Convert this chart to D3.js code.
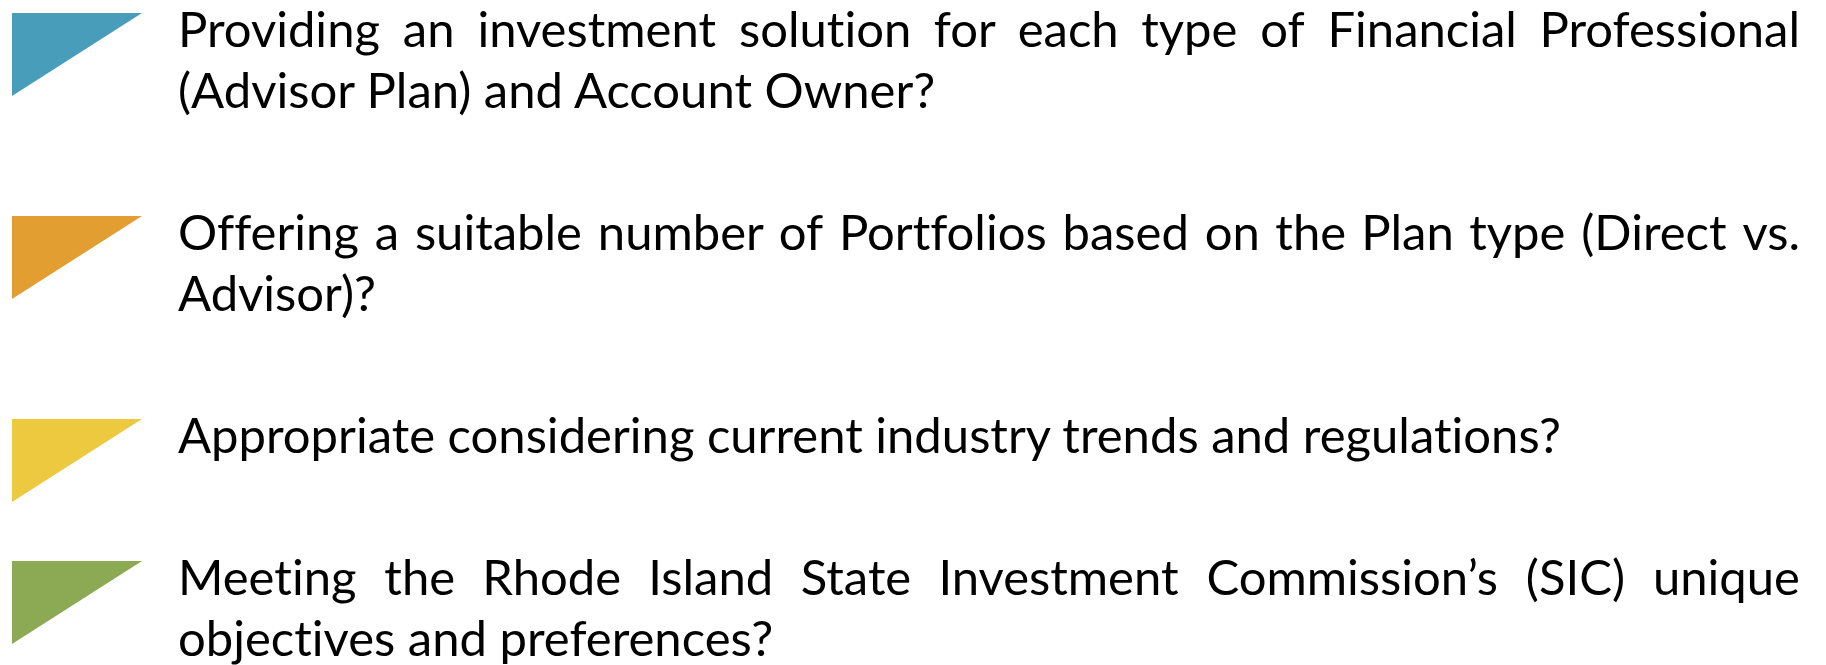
<!DOCTYPE html>
<html>
<head>
<meta charset="utf-8">
<script src="https://cdn.jsdelivr.net/npm/d3@7"></script>
<style>
  body { margin: 0; background: #fff; }
  svg { display: block; }
  text { font-family: Lato, "Open Sans", sans-serif; fill: #000; font-variant-ligatures: none; }
</style>
</head>
<body>
<svg></svg>
<script>
const markerColors = ["#479DBA", "#E39E31", "#EDC940", "#8BAA53"];
const itemLines = [
  ["Providing an investment solution for each type of Financial Professional", "(Advisor Plan) and Account Owner?"],
  ["Offering a suitable number of Portfolios based on the Plan type (Direct vs.", "Advisor)?"],
  ["Appropriate considering current industry trends and regulations?"],
  ["Meeting the Rhode Island State Investment Commission’s (SIC) unique", "objectives and preferences?"]
];

const width = 1826;
const height = 665;
const fontSize = 49;
const lineHeight = 61;
const paraGap = 81;
const top0 = 13;
const textLeft = 178;
const textRight = 1800;

let svg = d3.select("svg")
            .attr("width", width)
            .attr("height", height);

// cumulative top of each item (items with more lines take more room)
let tops = [];
itemLines.reduce((y, lines) => { tops.push(y); return y + lines.length * lineHeight + paraGap; }, top0);

// triangle marker sized in its own little box
let tx = d3.scaleLinear().domain([0, 1]).range([12, 142]);
let ty = d3.scaleLinear().domain([0, 1]).range([0, 83]);

let items = svg.selectAll("g.item")
               .data(itemLines)
               .enter()
               .append("g")
                 .attr("class", "item")
                 .attr("transform", (d, i) => `translate(0,${tops[i]})`);

items.append("path")
     .attr("d", d3.line()([[tx(0), ty(0)], [tx(1), ty(0)], [tx(0), ty(1)]]) + "Z")
     .style("fill", (d, i) => markerColors[i]);

items.each(function(lines) {
  let g = d3.select(this);
  lines.forEach((line, li) => {
    let y = 34 + li * lineHeight;
    let last = li === lines.length - 1;
    let t = g.append("text")
             .attr("y", y)
             .style("font-size", fontSize + "px");
    if (last) {
      t.attr("x", textLeft).text(line);
      return;
    }
    // justified line: spread words to the right edge
    let words = line.split(" ");
    let spans = t.selectAll("tspan")
                 .data(words)
                 .enter()
                 .append("tspan")
                   .text(w => w);
    let widths = spans.nodes().map(n => n.getComputedTextLength());
    let total = d3.sum(widths);
    let gap = (textRight - textLeft - total) / (words.length - 1);
    let x = textLeft;
    spans.attr("x", (w, i) => { let cx = x; x += widths[i] + gap; return cx; });
  });
});
</script>
</body>
</html>
